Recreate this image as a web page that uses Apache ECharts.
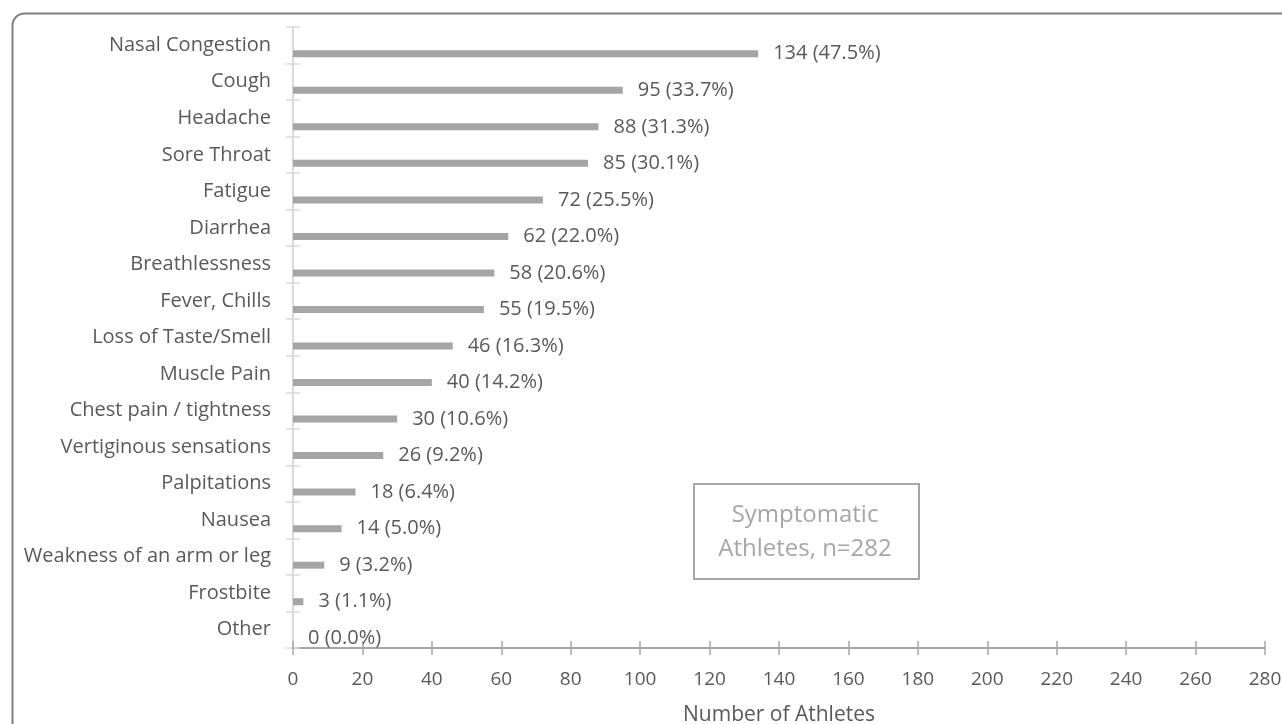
<!DOCTYPE html>
<html>
<head>
<meta charset="utf-8">
<script src="https://cdn.jsdelivr.net/npm/echarts@6/dist/echarts.min.js"></script>
<style>html,body{margin:0;padding:0;background:#fff;}#c{width:1282px;height:724px;}</style>
</head>
<body>
<div id="c"></div>
<script>
const categories = ["Nasal Congestion","Cough","Headache","Sore Throat","Fatigue","Diarrhea","Breathlessness","Fever, Chills","Loss of Taste/Smell","Muscle Pain","Chest pain / tightness","Vertiginous sensations","Palpitations","Nausea","Weakness of an arm or leg","Frostbite","Other"];
const counts = [134,95,88,85,72,62,58,55,46,40,30,26,18,14,9,3,0];
const percents = [47.5,33.7,31.3,30.1,25.5,22.0,20.6,19.5,16.3,14.2,10.6,9.2,6.4,5.0,3.2,1.1,0.0];
const xTicks = {min:0, max:280, interval:20};
const noteText = "Symptomatic\nAthletes, n=282";

const FONT = "Open Sans";
const chart = echarts.init(document.getElementById('c'));
chart.setOption({
  backgroundColor:'#fff',
  animation:false,
  textStyle:{fontFamily:FONT},
  grid:{left:293,right:17,top:27,bottom:76,containLabel:false,outerBoundsMode:'none'},
  xAxis:[{
    type:'value',min:xTicks.min,max:xTicks.max,interval:xTicks.interval,position:'bottom',
    name:'Number of Athletes',nameLocation:'middle',nameGap:57,
    nameTextStyle:{color:'#595959',fontSize:21,fontFamily:FONT},
    axisLine:{show:true,lineStyle:{color:'#a6a6a6',width:2}},
    axisTick:{show:true,length:7,lineStyle:{color:'#a6a6a6',width:1.5}},
    axisLabel:{color:'#595959',fontSize:19,margin:22,fontFamily:FONT},
    splitLine:{show:false}
  },{
    type:'value',min:xTicks.min,max:xTicks.max,interval:xTicks.interval,position:'bottom',
    axisLine:{show:false},
    axisTick:{show:true,inside:true,length:7,lineStyle:{color:'#a6a6a6',width:1.5}},
    axisLabel:{show:false},splitLine:{show:false}
  }],
  yAxis:[{
    type:'category',data:categories,inverse:true,position:'left',
    axisLine:{show:true,lineStyle:{color:'#d9d9d9',width:2}},
    axisTick:{show:true,length:7,lineStyle:{color:'#d9d9d9',width:1.5}},
    axisLabel:{color:'#595959',fontSize:20,margin:22,fontFamily:FONT}
  },{
    type:'category',data:categories,inverse:true,position:'left',
    axisLine:{show:false},
    axisTick:{show:true,inside:true,length:7,lineStyle:{color:'#d9d9d9',width:1.5}},
    axisLabel:{show:false}
  }],
  series:[{
    type:'bar',name:'pct',data:percents,barWidth:7,barGap:'143%',
    itemStyle:{color:'rgba(0,0,0,0)'},silent:true,label:{show:false}
  },{
    type:'bar',name:'count',data:counts,barWidth:7,barGap:'143%',
    itemStyle:{color:'#a5a5a5'},
    label:{show:true,position:'right',distance:15,color:'#595959',fontSize:20,fontFamily:FONT,
      formatter:p=>counts[p.dataIndex]+' ('+percents[p.dataIndex].toFixed(1)+'%)'}
  }],
  graphic:[{
    type:'rect',left:10,top:11,shape:{width:1300,height:800,r:12},
    style:{fill:'none',stroke:'#7f7f7f',lineWidth:2},silent:true,z:-1
  },{
    type:'rect',left:693,top:483,shape:{width:225,height:95},
    style:{fill:'#fff',stroke:'#a6a6a6',lineWidth:2}
  },{
    type:'text',x:805,y:532,
    style:{text:noteText,fill:'#a6a6a6',font:'24px "Open Sans"',align:'center',verticalAlign:'middle',lineHeight:34}
  }]
});
</script>
</body>
</html>
